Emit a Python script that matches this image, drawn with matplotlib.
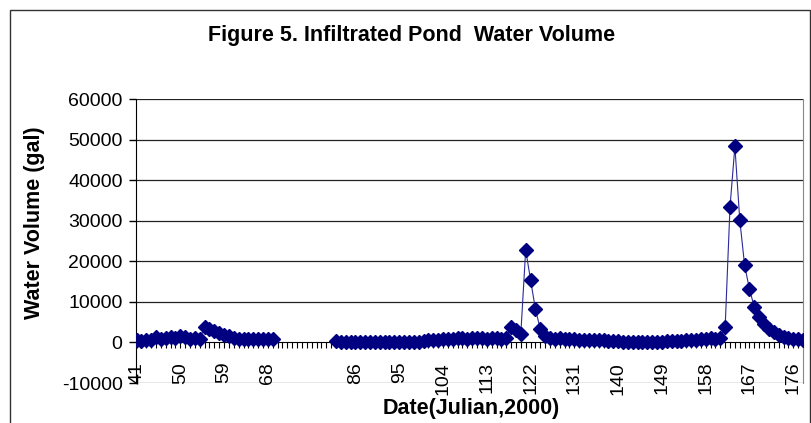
import numpy as np
import matplotlib
matplotlib.use("Agg")
import matplotlib.pyplot as plt
from matplotlib.patches import Rectangle

plt.rcParams["font.family"] = ["Liberation Sans", "DejaVu Sans"]

# ── Data (Julian day 41..178, gap 70..81) ─────────────────────────────────────
days = list(range(41, 179))

vol_early = [500, 400, 500, 700, 1300, 900, 1100, 1400, 1200, 1500,
             1300, 900, 1000, 800, 3900, 3400, 2900, 2400, 1900, 1500,
             1100, 900, 800, 900, 800, 800, 900, 800, 800]          # 41-69
vol_late = [300, 200, 100, 100, 100, 100, 100, 100, 100, 100,
            100, 100, 100, 100, 100, 100, 100, 200, 300, 500,
            600, 500, 800, 900, 800, 1000, 1000, 900, 1000, 1000,
            1000, 900, 1000, 1000, 900, 1000, 3800, 3100, 2200, 22800,
            15400, 8200, 3300, 1500, 1000, 900, 1000, 900, 800, 800,
            700, 700, 600, 700, 600, 500, 400, 300, 300, 200,
            200, 200, 200, 200, 200, 200, 200, 200, 300, 300,
            400, 400, 500, 600, 700, 800, 900, 1000, 900, 1100,
            3800, 33500, 48300, 30200, 19000, 13100, 8700, 6200, 4500, 3400,
            2500, 1800, 1300, 1000, 800, 900, 700]                  # 82-178

label_days = [41, 50, 59, 68, 86, 95, 104, 113, 122, 131, 140, 149, 158, 167, 176]
y_ticks = [-10000, 0, 10000, 20000, 30000, 40000, 50000, 60000]

volume = vol_early + [np.nan] * (82 - 70) + vol_late

# ── Figure ────────────────────────────────────────────────────────────────────
W, H = 812, 423
fig = plt.figure(figsize=(W / 100, H / 100), dpi=100)
fig.patches.append(Rectangle((10 / W, -0.2), 800 / W, 1.2 - 10 / H,
                             transform=fig.transFigure, fill=False,
                             edgecolor="#333333", lw=1.0))

left, right, top, bottom = 136.5, 803, 99, 383
ax = fig.add_axes([left / W, 1 - bottom / H, (right - left) / W, (bottom - top) / H])

# spine position first: moving it resets the tick objects
ax.spines["bottom"].set_position(("data", 0))
ax.spines["bottom"].set_color("black")
ax.spines["left"].set_color("black")
ax.spines["right"].set_color("#888888")
ax.spines["top"].set_visible(False)

ax.plot(days, volume, color="#2a2a9a", lw=0.8, marker="D", markersize=7.5,
        markerfacecolor="#000080", markeredgecolor="#000080", zorder=3)

ax.set_xlim(days[0], days[-1])
ax.set_ylim(-10000, 60000)
ax.set_yticks(y_ticks)
ax.set_yticklabels([str(v) for v in y_ticks], fontsize=14)

for v in y_ticks[2:]:
    ax.axhline(v, color="#222222", lw=0.9, zorder=1)
ax.axhline(-10000, color="#888888", lw=1.0, zorder=1)

ax.set_xticks(label_days)
ax.set_xticks(days, minor=True)
ax.set_xticklabels([str(d) for d in label_days], rotation=90, fontsize=14, va="top")

ax.tick_params(axis="y", direction="out", length=5, width=1, pad=5)
ax.tick_params(axis="x", which="major", direction="out", length=4, width=0.8, pad=10)
ax.tick_params(axis="x", which="minor", direction="out", length=4, width=0.8)

fig.text(412 / W, 1 - 36 / H, "Figure 5. Infiltrated Pond  Water Volume",
         ha="center", va="center", fontsize=15.5, fontweight="bold")
fig.text(471 / W, 1 - 408 / H, "Date(Julian,2000)",
         ha="center", va="center", fontsize=15.5, fontweight="bold")
fig.text(35 / W, 1 - 223 / H, "Water Volume (gal)", rotation=90,
         ha="center", va="center", fontsize=15.5, fontweight="bold")

fig.savefig("out.png", dpi=100)
